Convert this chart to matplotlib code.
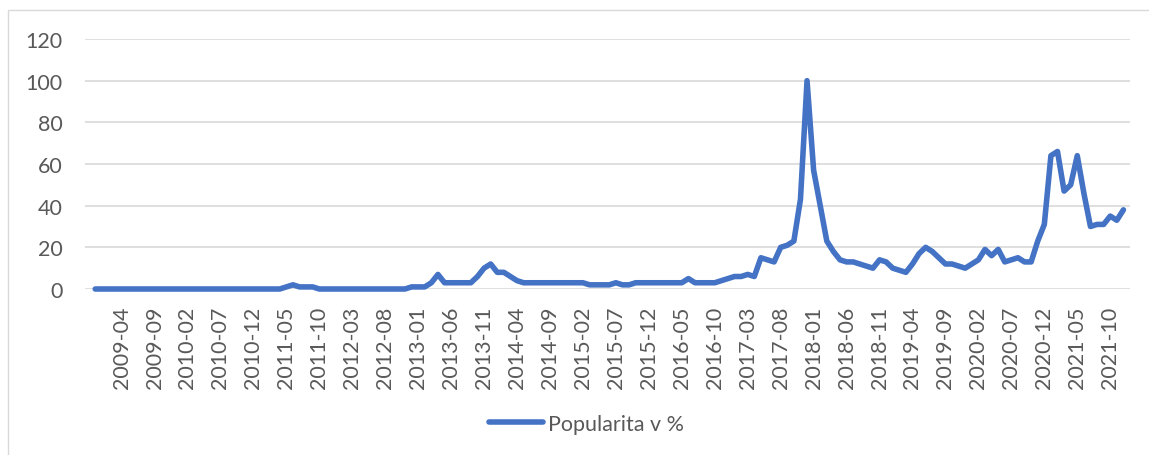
import matplotlib
matplotlib.use("Agg")
import matplotlib.pyplot as plt
import pandas as pd
from matplotlib.patches import Rectangle

# monthly categories 2008-12 .. 2021-12
months = pd.period_range("2008-12", "2021-12", freq="M").strftime("%Y-%m").tolist()

popularity = (
    [0] * 29 + [1, 2, 1, 1, 1] + [0] * 14
    + [1, 1, 1, 3, 7, 3, 3, 3, 3, 3, 6, 10, 12, 8, 8, 6, 4]
    + [3] * 10 + [2, 2, 2, 2, 3, 2, 2] + [3] * 8 + [5, 3, 3, 3, 3]
    + [4, 5, 6, 6, 7, 6, 15, 14, 13, 20, 21, 23, 43, 100, 57, 40, 23, 18,
       14, 13, 13, 12, 11, 10, 14, 13, 10, 9, 8, 12, 17, 20, 18, 15, 12, 12,
       11, 10, 12, 14, 19, 16, 19, 13, 14, 15, 13, 13, 23, 31, 64, 66, 47,
       50, 64, 46, 30, 31, 31, 35, 33, 38]
)

series_name = "Popularita v %"
yticks = [0, 20, 40, 60, 80, 100, 120]
label_every = 5
label_start = 4  # first shown label: 2009-04

TEXT = "#595959"
GRID = "#d9d9d9"
BLUE = "#4472C4"

plt.rcParams["font.family"] = ["Lato", "DejaVu Sans"]

W, H = 1149, 456
fig = plt.figure(figsize=(W / 100, H / 100), dpi=100)
# plot area in pixels: x 85..1130, y 40..290
ax = fig.add_axes([85 / W, 1 - 290 / H, (1130 - 85) / W, 250 / H])

x = list(range(len(months)))
ax.plot(x, popularity, color=BLUE, lw=4.0, solid_joinstyle="round",
        solid_capstyle="round", clip_on=False, zorder=3, label=series_name)

ax.set_xlim(-1.55, 157.0)
ax.set_ylim(0, 120)
ax.set_yticks(yticks)
ax.set_yticklabels([str(v) for v in yticks])
ticks = x[label_start::label_every]
ax.set_xticks(ticks)
ax.set_xticklabels([months[i] for i in ticks], rotation=90, ha="center")

ax.tick_params(axis="y", length=0, pad=16, labelsize=15.5, labelcolor=TEXT)
ax.tick_params(axis="x", length=0, pad=12, labelsize=15.5, labelcolor=TEXT)
ax.grid(axis="y", color=GRID, lw=1.2)
ax.set_axisbelow(True)
for s in ax.spines.values():
    s.set_visible(False)

# chart area border (continues past the image edge right and bottom)
fig.add_artist(Rectangle((7.5 / W, -0.5), 2.0, 1.5 - 11 / H,
                         transform=fig.transFigure, fill=False,
                         edgecolor=GRID, lw=1.0))

fig.legend(loc="center left", bbox_to_anchor=(489 / W, 1 - 425 / H),
           frameon=False, fontsize=15.5, labelcolor=TEXT, borderpad=0,
           borderaxespad=0, handlelength=2.5, handletextpad=0.25)

fig.savefig("out.png", dpi=100)
